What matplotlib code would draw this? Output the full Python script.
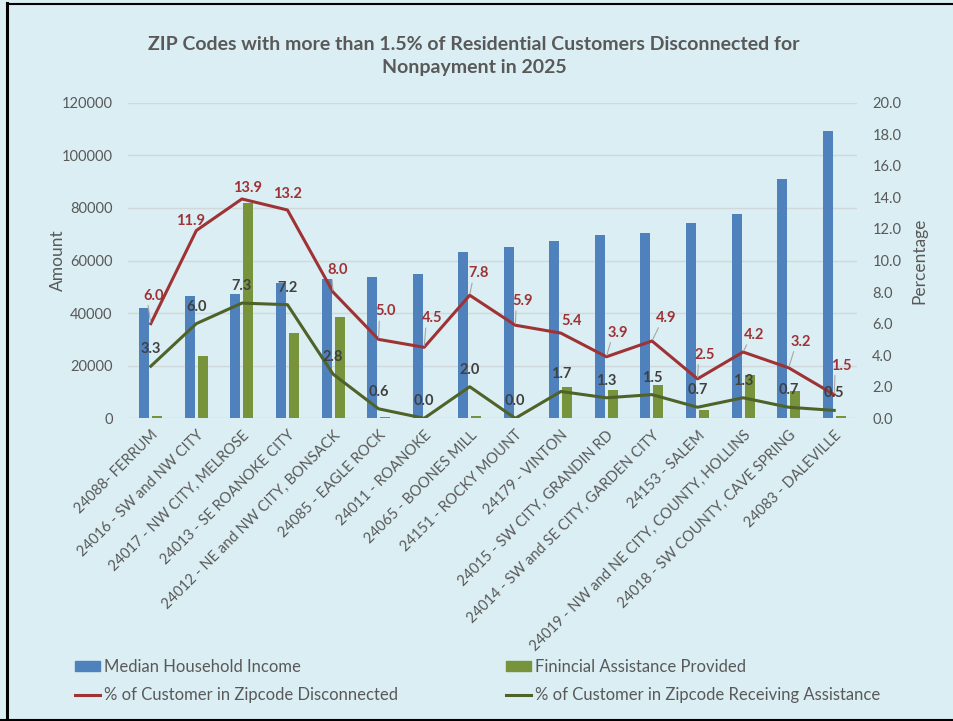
import numpy as np
import matplotlib.pyplot as plt
from matplotlib.patches import Patch
from matplotlib.lines import Line2D

plt.rcParams['font.family'] = ['Lato', 'DejaVu Sans']

# datos
zips = ['24088- FERRUM', '24016 - SW and NW CITY', '24017 - NW CITY, MELROSE',
        '24013 - SE ROANOKE CITY', '24012 - NE and NW CITY, BONSACK',
        '24085 - EAGLE ROCK', '24011 - ROANOKE', '24065 - BOONES MILL',
        '24151 - ROCKY MOUNT', '24179 - VINTON', '24015 - SW CITY, GRANDIN RD',
        '24014 - SW and SE CITY, GARDEN CITY', '24153 - SALEM',
        '24019 - NW and NE CITY, COUNTY, HOLLINS',
        '24018 - SW COUNTY, CAVE SPRING', '24083 - DALEVILLE']
median_income = [41800, 46500, 47400, 51300, 53000, 53600, 55000, 63200,
                 65100, 67500, 69800, 70300, 74300, 77800, 90900, 109200]
assistance = [900, 23600, 82000, 32500, 38600, 400, 0, 800,
              0, 12000, 10900, 12800, 3200, 16500, 10500, 1000]
pct_disconnected = [6.0, 11.9, 13.9, 13.2, 8.0, 5.0, 4.5, 7.8,
                    5.9, 5.4, 3.9, 4.9, 2.5, 4.2, 3.2, 1.5]
pct_assisted = [3.3, 6.0, 7.3, 7.2, 2.8, 0.6, 0.0, 2.0,
                0.0, 1.7, 1.3, 1.5, 0.7, 1.3, 0.7, 0.5]

# posicion de las etiquetas rojas (pixeles respecto al punto)
red_dx = [3, -6, 6, 0, 5, 7, 8, 9, 7, 11, 11, 14, 7, 11, 12, 7]
red_dy = [28, 10, 11, 16, 22, 28, 29, 22, 24, 12, 24, 23, 24, 17, 26, 29]

bg = '#DAEEF3'
blue = '#4F81BD'
olive = '#77933C'
red = '#9E3234'
dgreen = '#4F6228'
txt = '#595959'

fig = plt.figure(figsize=(9.54, 7.21), dpi=100, facecolor=bg)
ax = fig.add_axes([128/954, 1-418.3/721, (857-128)/954, (418.3-102.7)/721])
ax.set_facecolor(bg)
ax2 = ax.twinx()

x = np.arange(len(zips))
w = 0.22
ax.bar(x - 0.143, median_income, width=w, color=blue, zorder=2)
ax.bar(x + 0.143, assistance, width=w, color=olive, zorder=2)

ax.set_ylim(0, 120000)
ax.set_yticks(np.arange(0, 120001, 20000))
ax.set_xlim(-0.5, len(zips) - 0.5)
ax.grid(axis='y', color='#D0D8DB', linewidth=1, zorder=0)
ax.set_axisbelow(True)
for s in ax.spines.values():
    s.set_visible(False)
for s in ax2.spines.values():
    s.set_visible(False)
ax.tick_params(axis='both', length=0, colors=txt, labelsize=10.5)
ax.tick_params(axis='y', pad=11)
ax.set_xticks(x)
ax.set_xticklabels(zips, rotation=45, ha='right', va='top', rotation_mode='anchor')
ax.tick_params(axis='x', pad=7)
ax.set_ylabel('Amount', color=txt, fontsize=12.5, labelpad=-3)

ax2.plot(x, pct_disconnected, color=red, linewidth=2.2, zorder=3)
ax2.plot(x, pct_assisted, color=dgreen, linewidth=2.2, zorder=3)
ax2.set_ylim(0, 20)
ax2.set_yticks(np.arange(0, 20.1, 2))
ax2.set_yticklabels([f'{v:.1f}' for v in np.arange(0, 20.1, 2)])
ax2.tick_params(axis='y', length=0, colors=txt, labelsize=10.5, pad=11)
ax2.set_ylabel('Percentage', color=txt, fontsize=12.5, labelpad=7)

for i, v in enumerate(pct_disconnected):
    dist = np.hypot(red_dx[i], red_dy[i])
    props = None
    if dist > 20:
        props = dict(arrowstyle='-', color='#A6A6A6', lw=0.8,
                     shrinkA=0, shrinkB=1, relpos=(0.2, 0.0))
    ax2.annotate(f'{v:.1f}', (x[i], v), xytext=(red_dx[i], red_dy[i]),
                 textcoords='offset pixels', ha='center', va='center',
                 color=red, fontsize=10.5, fontweight='bold',
                 arrowprops=props, zorder=5)
for i, v in enumerate(pct_assisted):
    ax2.annotate(f'{v:.1f}', (x[i], v), xytext=(0, 17),
                 textcoords='offset pixels', ha='center', va='center',
                 color='#404040', fontsize=10.5, fontweight='bold', zorder=5)

fig.text(474/954, 1-44/721, 'ZIP Codes with more than 1.5% of Residential Customers Disconnected for',
         ha='center', va='center', fontsize=14, fontweight='bold', color=txt)
fig.text(474/954, 1-67/721, 'Nonpayment in 2025',
         ha='center', va='center', fontsize=14, fontweight='bold', color=txt)

h1 = [Patch(color=blue), Line2D([], [], color=red, lw=2.2)]
h2 = [Patch(color=olive), Line2D([], [], color=dgreen, lw=2.2)]
legkw = dict(frameon=False, fontsize=12, handlelength=1.5, handleheight=0.6,
             handletextpad=0.24, labelspacing=0.73, borderpad=0, borderaxespad=0,
             loc='upper left', labelcolor=txt)
l1 = fig.legend(h1, ['Median Household Income', '% of Customer in Zipcode Disconnected'],
                bbox_to_anchor=(75/954, 1-659/721), **legkw)
l2 = fig.legend(h2, ['Finincial Assistance Provided', '% of Customer in Zipcode Receiving Assistance'],
                bbox_to_anchor=(506/954, 1-659/721), **legkw)

# marco negro (arriba, izquierda, abajo)
fig.add_artist(Line2D([7/954, 1], [1-3.5/721, 1-3.5/721], color='black', lw=1.5, transform=fig.transFigure))
fig.add_artist(Line2D([7.5/954, 7.5/954], [0, 1-3/721], color='black', lw=2.2, transform=fig.transFigure))
fig.add_artist(Line2D([0, 1], [1.2/721, 1.2/721], color='black', lw=1.5, transform=fig.transFigure))

fig.savefig('out.png', dpi=100, facecolor=bg)
